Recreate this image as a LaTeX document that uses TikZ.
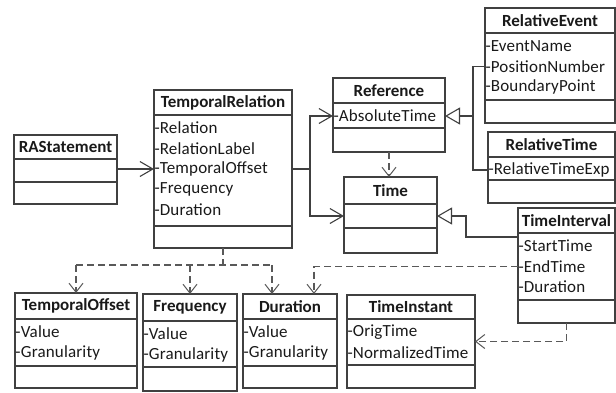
\documentclass[tikz,border=0pt]{standalone}
\usepackage{fontspec}
\setmainfont{Carlito}
\newfontfamily\attrfont[LetterSpace=1]{Carlito}
\usetikzlibrary{arrows.meta,calc}

\tikzset{
  umlline/.style={draw=black!75, line width=1.3pt},
  classbox/.style={umlline, rectangle, inner sep=0pt, outer sep=0pt},
  classname/.style={font=\bfseries\fontsize{17}{19}\selectfont, text=black!90, inner sep=0pt},
  attrib/.style={font=\attrfont\fontsize{17}{19}\selectfont, text=black!90, anchor=west, inner xsep=0.3pt, inner ysep=0pt},
  assoc/.style={umlline, line width=1.1pt, -{Straight Barb[length=13pt,width=15pt,line width=1.1pt]}},
  gen/.style={umlline, line width=1.1pt, -{Triangle[open,length=15pt,width=17pt,line width=1.1pt]}},
  depline/.style={draw=black!65, line width=1.1pt, dash pattern=on 7pt off 4pt},
  dep/.style={depline, -{Straight Barb[length=9pt,width=14pt,line width=1pt]}},
}

% #1 name, #2 left, #3 top, #4 right, #5 bottom, #6 title line, #7 attribute line, #8 title, #9 attributes
\newcommand{\umlclass}[9]{%
  \node[classbox, minimum width=(#4-#2)*1pt, minimum height=(#5-#3)*1pt, anchor=north west] (#1) at (#2,#3) {};
  \coordinate (#1-s1) at (#2,#6);
  \coordinate (#1-s2) at (#2,#7);
  \draw[umlline] (#1-s1) -- (#4,#6);
  \draw[umlline] (#1-s2) -- (#4,#7);
  \node[classname] (#1-title) at ({(#2+#4)/2},{(#3+#6)/2}) {#8};
  \foreach \a [count=\i] in {#9} {\node[attrib] (#1-\i) at (#2,{#6+13+(\i-1)*20.5}) {\a};}
}

\begin{document}
\begin{tikzpicture}[x=1pt,y=-1pt]
    \useasboundingbox (0,0) rectangle (616,392);

    % Classes %
    \umlclass{ra}{14}{135}{117}{204}{159}{182}{RAStatement}{}
    \umlclass{tr}{154}{90}{292}{248}{115}{226}{TemporalRelation}{-Relation,-RelationLabel,-TemporalOffset,-Frequency,-Duration}
    \umlclass{ref}{333}{78}{445}{152}{103}{128}{Reference}{-AbsoluteTime}
    \umlclass{time}{344}{177}{437}{253}{204}{228}{Time}{}
    \umlclass{rev}{485}{8}{615}{123}{33}{100}{RelativeEvent}{-EventName,-PositionNumber,-BoundaryPoint}
    \umlclass{rtime}{488}{132}{615}{203}{157}{180}{RelativeTime}{-RelativeTimeExp}
    \umlclass{tint}{518}{208}{615}{323}{233}{300}{TimeInterval}{-StartTime,-EndTime,-Duration}
    \umlclass{tinst}{347}{295}{475}{388}{319}{365}{TimeInstant}{-OrigTime,-NormalizedTime}
    \umlclass{toff}{15}{293}{137}{388}{319}{366}{TemporalOffset}{-Value,-Granularity}
    \umlclass{freq}{143}{294}{237}{391}{321}{367}{Frequency}{-Value,-Granularity}
    \umlclass{dur}{243}{294}{337}{388}{319}{366}{Duration}{-Value,-Granularity}

    % Associations %
    \coordinate (j1) at (310,0);
    \draw[assoc] (ra.east |- tr-3) -- (tr.west |- tr-3);
    \draw[umlline, line width=1.1pt] (tr.east |- tr-3) -- (j1 |- tr-3);
    \draw[assoc] (j1 |- tr-3) |- (ref.west |- ref-1);
    \draw[assoc] (j1 |- tr-3) |- ($(time-s1)!.5!(time-s2)$);

    % Generalizations %
    \coordinate (j2) at (473,0);
    \draw[umlline, line width=1.1pt] (rev.west |- rev-2) -- (j2 |- rev-2) -- (j2 |- rtime-1) -- (rtime.west |- rtime-1);
    \draw[gen] (j2 |- ref-1) -- (ref.east |- ref-1);
    \coordinate (j3) at (466,216);
    \draw[gen] ($(tint-s1)+(0,4)$) -| (j3) -- (time.east |- j3);

    % Dependencies %
    \draw[dep] (ref.south) -- (ref.south |- time.north);
    \draw[dep] (tint.west |- tint-2) -| ($(dur.north)+(24,0)$);
    \draw[dep] (tint.south) |- (tinst.east);
    \coordinate (j5) at ($(tr.south)+(0,17)$);
    \coordinate (j6) at ($(dur.north)+(-18,0)$);
    \draw[depline] (tr.south) -- (j5);
    \draw[depline] (toff.north |- j5) -- (j6 |- j5);
    \draw[dep] (toff.north |- j5) -- (toff.north);
    \draw[dep] (freq.north |- j5) -- (freq.north);
    \draw[dep] (j6 |- j5) -- (j6);
\end{tikzpicture}
\end{document}
